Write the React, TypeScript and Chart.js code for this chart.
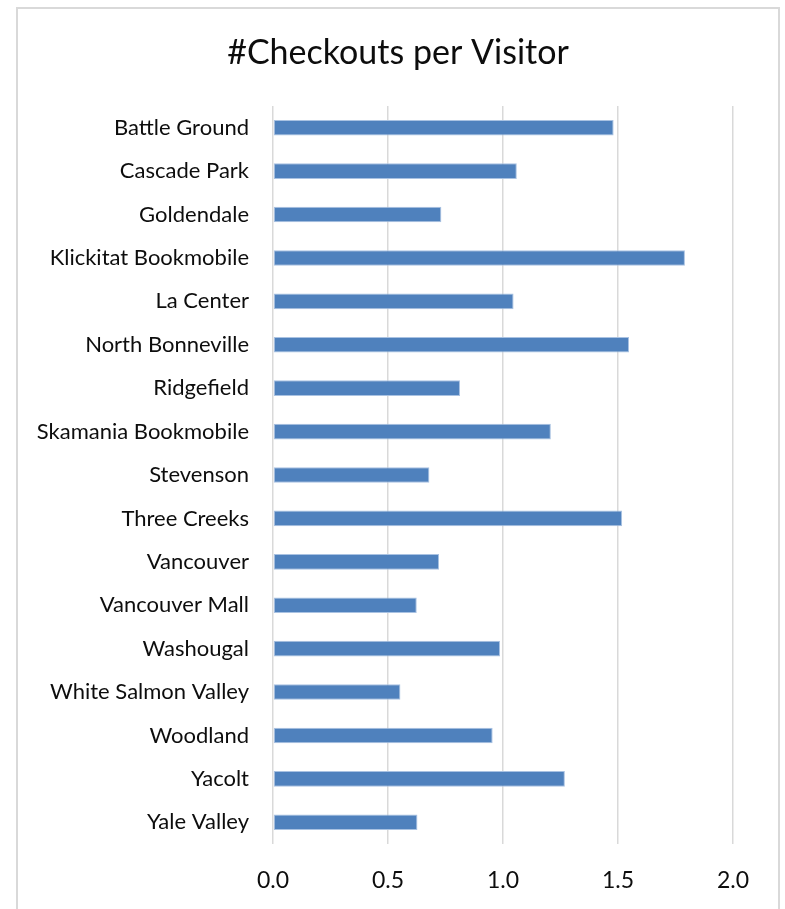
import React, { useEffect, useRef } from "react";
import { Chart, registerables } from "chart.js";

Chart.register(...registerables);

const title = "#Checkouts per Visitor";
const categories = [
  "Battle Ground",
  "Cascade Park",
  "Goldendale",
  "Klickitat Bookmobile",
  "La Center",
  "North Bonneville",
  "Ridgefield",
  "Skamania Bookmobile",
  "Stevenson",
  "Three Creeks",
  "Vancouver",
  "Vancouver Mall",
  "Washougal",
  "White Salmon Valley",
  "Woodland",
  "Yacolt",
  "Yale Valley",
];
const checkoutsPerVisitor = [
  1.481, 1.06, 0.732, 1.791, 1.046, 1.548, 0.813, 1.208, 0.68, 1.518, 0.722,
  0.625, 0.987, 0.554, 0.955, 1.269, 0.628,
];
const xTicks = [0, 0.5, 1.0, 1.5, 2.0];

const W = 785;
const H = 909;
const FONT = "Lato, 'Liberation Sans', sans-serif";

export default function App() {
  const ref = useRef<HTMLCanvasElement | null>(null);

  useEffect(() => {
    if (!ref.current) return;
    const framePlugin = {
      id: "frameAndTitle",
      beforeDraw(chart: any) {
        const ctx = chart.ctx;
        ctx.save();
        ctx.fillStyle = "#ffffff";
        ctx.fillRect(0, 0, W, H);
        ctx.strokeStyle = "#d9d9d9";
        ctx.lineWidth = 2;
        ctx.strokeRect(17, 8, 762, 930);
        ctx.fillStyle = "#0d0d0d";
        ctx.font = `34px ${FONT}`;
        ctx.textAlign = "center";
        ctx.textBaseline = "middle";
        ctx.fillText(title, 398, 53);
        ctx.restore();
      },
    };

    const chart = new Chart(ref.current, {
      type: "bar",
      data: {
        labels: categories,
        datasets: [
          {
            data: checkoutsPerVisitor,
            backgroundColor: "#4f81bd",
            borderColor: "#a9c2e2",
            borderWidth: 1,
            borderSkipped: false,
            categoryPercentage: 1,
            barPercentage: 0.36,
          },
        ],
      },
      options: {
        indexAxis: "y",
        responsive: false,
        animation: false,
        devicePixelRatio: 1,
        layout: { padding: { top: 106, right: 52, left: 0, bottom: 0 } },
        plugins: {
          legend: { display: false },
          title: { display: false },
          tooltip: { enabled: false },
        },
        scales: {
          x: {
            type: "linear",
            min: 0,
            max: 2,
            afterBuildTicks(scale: any) {
              scale.ticks = xTicks.map((v) => ({ value: v }));
            },
            afterFit(scale: any) {
              scale.height = 65;
            },
            grid: {
              color: "#d9d9d9",
              lineWidth: 1.5,
              drawTicks: false,
            },
            border: { display: false },
            ticks: {
              padding: 23,
              color: "#0d0d0d",
              font: { family: FONT, size: 23 },
              callback: (v: any) => Number(v).toFixed(1),
            },
          },
          y: {
            afterFit(scale: any) {
              scale.width = 273;
            },
            grid: { display: false, drawTicks: false },
            border: { display: false },
            ticks: {
              padding: 24,
              color: "#0d0d0d",
              font: { family: FONT, size: 22 },
              autoSkip: false,
            },
          },
        },
      },
      plugins: [framePlugin],
    });
    return () => chart.destroy();
  }, []);

  return (
    <div style={{ position: "fixed", left: 0, top: 0, width: W, height: H, background: "#fff" }}>
      <canvas ref={ref} width={W} height={H} style={{ width: W, height: H, display: "block" }} />
    </div>
  );
}
